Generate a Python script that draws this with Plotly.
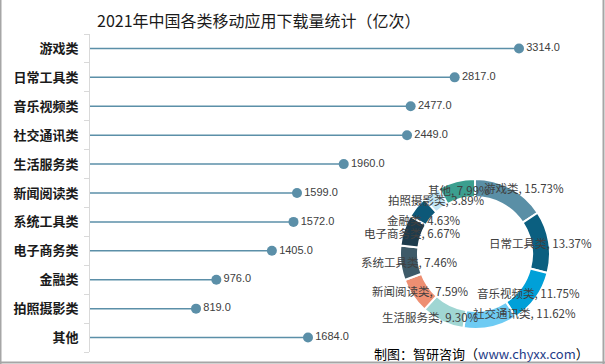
import math
import plotly.graph_objects as go

categories = ["游戏类", "日常工具类", "音乐视频类", "社交通讯类", "生活服务类", "新闻阅读类",
              "系统工具类", "电子商务类", "金融类", "拍照摄影类", "其他"]
downloads = [3314.0, 2817.0, 2477.0, 2449.0, 1960.0, 1599.0, 1572.0, 1405.0, 976.0, 819.0, 1684.0]
pie_colors = ["#5a8fa6", "#0b5f80", "#00a0d8", "#6ecbf3", "#a0d6d3", "#ee8f72",
              "#3e5a68", "#1d3b4c", "#0d5878", "#c2e6f6", "#3b9f8f"]
title_text = "2021年中国各类移动应用下载量统计（亿次）"
source_text = "制图：智研咨询（<span style='color:#1f3c88'>www.chyxx.com</span>）"

W, H = 605, 364
line_color = "#5b8fa8"

fig = go.Figure()

# lollipop stems
lx, ly = [], []
for c, v in zip(categories, downloads):
    lx += [0, v, None]
    ly += [c, c, None]
fig.add_trace(go.Scatter(x=lx, y=ly, mode="lines", line=dict(color=line_color, width=1.5),
                         hoverinfo="skip", showlegend=False, xaxis="x", yaxis="y"))
# heads + labels
fig.add_trace(go.Scatter(x=downloads, y=categories, mode="markers+text",
                         marker=dict(color=line_color, size=10),
                         text=[f"{v:.1f}" for v in downloads], textposition="middle right",
                         textfont=dict(family="Liberation Sans, Arial", size=11, color="#404040"),
                         showlegend=False, xaxis="x", yaxis="y"))

# donut
cx, cy, R = 475, 254, 75
hole = 0.76
fig.add_trace(go.Pie(labels=categories, values=downloads, sort=False, direction="clockwise",
                     rotation=0, hole=hole, textinfo="none", showlegend=False,
                     marker=dict(colors=pie_colors, line=dict(color="white", width=2)),
                     domain=dict(x=[(cx - R) / W, (cx + R) / W],
                                 y=[(H - cy - R) / H, (H - cy + R) / H])))

total = sum(downloads)
nudges = {"游戏类": (18, -8), "社交通讯类": (36, -6), "金融类": (0, 7), "生活服务类": (-16, 4)}
annotations = []
cum = 0.0
rmid = R * (1 + hole) / 2
for c, v in zip(categories, downloads):
    frac = v / total
    a = 2 * math.pi * (cum + frac / 2)
    cum += frac
    px = cx + rmid * math.sin(a)
    py = cy - rmid * math.cos(a)
    dx, dy = nudges.get(c, (0, 0))
    px += dx
    py += dy
    annotations.append(dict(x=px / W, y=1 - py / H, xref="paper", yref="paper",
                            text=f"{c}, {frac * 100:.2f}%", showarrow=False,
                            xanchor="center", yanchor="middle",
                            font=dict(family="Noto Sans CJK SC", size=11.5, color="#404040")))

annotations.append(dict(x=259 / W, y=1 - 20 / H, xref="paper", yref="paper", text=title_text,
                        showarrow=False, xanchor="center", yanchor="middle",
                        font=dict(family="Noto Sans CJK SC", size=16, color="#1a1a1a")))
annotations.append(dict(x=591 / W, y=1 - 353 / H, xref="paper", yref="paper", text=source_text,
                        showarrow=False, xanchor="right", yanchor="middle",
                        font=dict(family="Noto Sans CJK SC", size=13, color="#000000")))

x_left, x_right = 90, 560
scale = 429 / 3314.0
fig.update_layout(
    width=W, height=H, margin=dict(l=0, r=0, t=0, b=0),
    paper_bgcolor="white", plot_bgcolor="rgba(0,0,0,0)",
    xaxis=dict(domain=[x_left / W, x_right / W], range=[0, (x_right - x_left) / scale],
               visible=False, fixedrange=True),
    yaxis=dict(domain=[(H - 352) / H, (H - 34) / H], type="category",
               categoryorder="array", categoryarray=categories[::-1],
               range=[-0.5, len(categories) - 0.5], autorange=False,
               showline=True, linecolor="#d9d9d9", linewidth=1,
               ticks="outside", ticklen=5, tickcolor="#d9d9d9", tickson="boundaries",
               ticklabelstandoff=8, showgrid=False, zeroline=False,
               tickfont=dict(family="Noto Sans CJK SC", size=13, color="#1a1a1a", weight="bold")),
    annotations=annotations,
    shapes=[
        dict(type="line", xref="paper", yref="paper", x0=0.5 / W, x1=0.5 / W, y0=0, y1=1,
             line=dict(color="#a6a6a6", width=2)),
        dict(type="line", xref="paper", yref="paper", x0=1 - 1.5 / W, x1=1 - 1.5 / W, y0=0, y1=1,
             line=dict(color="#a6a6a6", width=2)),
        dict(type="line", xref="paper", yref="paper", x0=0, x1=1, y0=1.5 / H, y1=1.5 / H,
             line=dict(color="#a6a6a6", width=2)),
    ],
)

fig.write_html("out.html", config={"displayModeBar": False},
               post_script="document.body.style.margin='0';document.body.style.overflow='hidden';")
